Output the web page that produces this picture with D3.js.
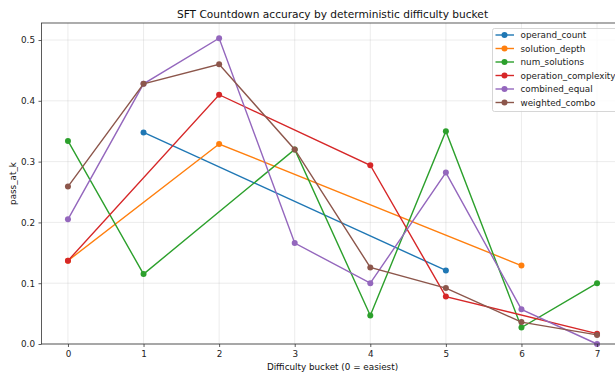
<!DOCTYPE html>
<html>
<head>
<meta charset="utf-8">
<script src="https://cdn.jsdelivr.net/npm/d3@7"></script>
<style>
  body { margin: 0; background: #fff; }
  svg { font-family: "DejaVu Sans", sans-serif; }
</style>
</head>
<body>
<svg id="chart" width="615" height="373"></svg>
<script>
// series data
const seriesNames = ['operand_count', 'solution_depth', 'num_solutions', 'operation_complexity', 'combined_equal', 'weighted_combo'];
const seriesColors = ['#1f77b4', '#ff7f0e', '#2ca02c', '#d62728', '#9467bd', '#8c564b'];

const operandCount = [[1, 0.348], [5, 0.121]];
const solutionDepth = [[0, 0.137], [2, 0.329], [6, 0.129]];
const numSolutions = [[0, 0.334], [1, 0.115], [3, 0.320], [4, 0.047], [5, 0.350], [6, 0.027], [7, 0.100]];
const operationComplexity = [[0, 0.137], [2, 0.410], [4, 0.294], [5, 0.078], [7, 0.017]];
const combinedEqual = [[0, 0.205], [1, 0.428], [2, 0.503], [3, 0.166], [4, 0.100], [5, 0.282], [6, 0.057], [7, 0.000]];
const weightedCombo = [[0, 0.259], [1, 0.428], [2, 0.460], [3, 0.320], [4, 0.126], [5, 0.092], [6, 0.036], [7, 0.015]];

const allSeries = [operandCount, solutionDepth, numSolutions, operationComplexity, combinedEqual, weightedCombo];

const xTicks = [0, 1, 2, 3, 4, 5, 6, 7];
const yTicks = [0.0, 0.1, 0.2, 0.3, 0.4, 0.5];

const margin = { top: 23, left: 41.5 };
const plotW = 582;
const plotH = 321;
const fontSm = 8.8;

const svg = d3.select('#chart');

const x = d3.scaleLinear().domain([-0.35, 7.35]).range([margin.left, margin.left + plotW]);
const y = d3.scaleLinear().domain([0, 0.528]).range([margin.top + plotH, margin.top]);

// grid
const grid = svg.append('g');
grid.selectAll('.gx')
    .data(xTicks)
    .enter()
    .append('line')
    .attr('x1', d => x(d)).attr('x2', d => x(d))
    .attr('y1', margin.top).attr('y2', margin.top + plotH)
    .attr('stroke', '#b0b0b0').attr('stroke-opacity', 0.3).attr('stroke-width', 0.8);
grid.selectAll('.gy')
    .data(yTicks)
    .enter()
    .append('line')
    .attr('x1', margin.left).attr('x2', margin.left + plotW)
    .attr('y1', d => y(d)).attr('y2', d => y(d))
    .attr('stroke', '#b0b0b0').attr('stroke-opacity', 0.3).attr('stroke-width', 0.8);

// lines and markers
const line = d3.line().x(d => x(d[0])).y(d => y(d[1]));

allSeries.forEach((s, i) => {
    svg.append('path')
        .datum(s)
        .attr('d', line)
        .attr('fill', 'none')
        .attr('stroke', seriesColors[i])
        .attr('stroke-width', 1.4);
    svg.selectAll('.pt' + i)
        .data(s)
        .enter()
        .append('circle')
        .attr('cx', d => x(d[0]))
        .attr('cy', d => y(d[1]))
        .attr('r', 3)
        .attr('fill', seriesColors[i]);
});

// axes
const xAxis = d3.axisBottom(x).tickValues(xTicks).tickFormat(d3.format('d')).tickSize(3).tickPadding(3.5);
const yAxis = d3.axisLeft(y).tickValues(yTicks).tickFormat(d3.format('.1f')).tickSize(3).tickPadding(3.5);

const gx = svg.append('g')
    .attr('transform', `translate(0,${margin.top + plotH})`)
    .call(xAxis);
const gy = svg.append('g')
    .attr('transform', `translate(${margin.left},0)`)
    .call(yAxis);

[gx, gy].forEach(g => {
    g.select('.domain').remove();
    g.selectAll('text').attr('font-size', fontSm).attr('fill', '#222').attr('font-family', '"DejaVu Sans", sans-serif');
    g.selectAll('line').attr('stroke', '#333').attr('stroke-width', 0.8);
});

// frame
svg.append('rect')
    .attr('x', margin.left).attr('y', margin.top)
    .attr('width', plotW).attr('height', plotH)
    .attr('fill', 'none').attr('stroke', '#333').attr('stroke-width', 0.8);

// labels
svg.append('text')
    .attr('x', margin.left + plotW / 2).attr('y', 18)
    .attr('text-anchor', 'middle').attr('font-size', 10.6).attr('fill', '#111')
    .text('SFT Countdown accuracy by deterministic difficulty bucket');

svg.append('text')
    .attr('x', margin.left + plotW / 2).attr('y', 369.5)
    .attr('text-anchor', 'middle').attr('font-size', fontSm).attr('fill', '#111')
    .text('Difficulty bucket (0 = easiest)');

svg.append('text')
    .attr('transform', `translate(15.5,${margin.top + plotH / 2}) rotate(-90)`)
    .attr('text-anchor', 'middle').attr('font-size', fontSm).attr('fill', '#111')
    .text('pass_at_k');

// legend
const legend = svg.append('g').attr('transform', 'translate(492.5,28.5)');
legend.append('rect')
    .attr('width', 130).attr('height', 83)
    .attr('rx', 2)
    .attr('fill', '#fff').attr('fill-opacity', 0.8)
    .attr('stroke', '#ccc').attr('stroke-width', 0.8);

const items = legend.selectAll('.item')
    .data(seriesNames)
    .enter()
    .append('g')
    .attr('transform', (d, i) => `translate(0,${6.5 + i * 13.5})`);
items.append('line')
    .attr('x1', 3).attr('x2', 21.5)
    .attr('stroke', (d, i) => seriesColors[i]).attr('stroke-width', 1.4);
items.append('circle')
    .attr('cx', 12).attr('r', 3)
    .attr('fill', (d, i) => seriesColors[i]);
items.append('text')
    .attr('x', 28).attr('dy', '0.35em')
    .attr('font-size', fontSm).attr('fill', '#222')
    .text(d => d);
</script>
</body>
</html>
